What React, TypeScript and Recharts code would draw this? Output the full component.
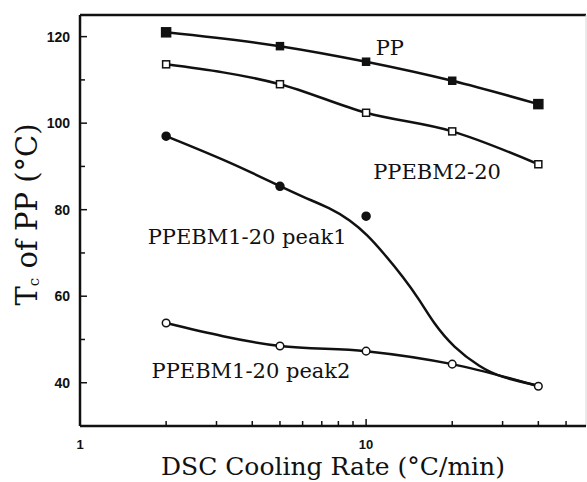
import React from 'react';
import { ComposedChart, Line, XAxis, YAxis, ReferenceLine, ReferenceDot } from 'recharts';

// ---- data ----
const coolingRates = [2, 5, 10, 20, 40];
const ppTc = [121, 117.8, 114.2, 109.8, 104.4];
const ppebm2Tc = [113.6, 109, 102.4, 98.1, 90.5];
const peak1Rates = [2, 5, 10];
const peak1Tc = [97, 85.4, 78.5];
const peak1FitRates = [2, 3.4, 5, 6.03, 7.48, 8.79, 10.1, 11.5, 13.5, 15.4, 17.2, 20.2, 25, 29.4, 40];
const peak1FitTc = [97, 90.8, 85.4, 82.9, 80.4, 77.6, 74.2, 70.0, 64.4, 59.1, 53.8, 48.2, 43.6, 41.3, 39.3];
const peak2Tc = [53.8, 48.5, 47.3, 44.3, 39.2];

const xTicks = [1, 2, 3, 4, 5, 6, 7, 8, 9, 10, 20, 30, 40, 50];
const xTickLabels = ['1', '10'];
const yTicks = [40, 50, 60, 70, 80, 90, 100, 110, 120];
const yTickLabels = ['40', '60', '80', '100', '120'];

const seriesNames = ['PP', 'PPEBM2-20', 'PPEBM1-20 peak1', 'PPEBM1-20 peak2'];

const toPoints = (rates: number[], values: number[]) =>
  rates.map((r, i) => ({ rate: r, tc: values[i] }));

const ppData = toPoints(coolingRates, ppTc);
const ppebm2Data = toPoints(coolingRates, ppebm2Tc);
const peak1Data = toPoints(peak1Rates, peak1Tc);
const peak1FitData = toPoints(peak1FitRates, peak1FitTc);
const peak2Data = toPoints(coolingRates, peak2Tc);

const INK = '#111';
const SERIF = '"DejaVu Serif", serif';
const SANS = '"Liberation Sans", Arial, sans-serif';

const XTick = (props: any) => {
  const { x, y, payload } = props;
  const label = xTickLabels.find((l) => Number(l) === payload.value);
  return (
    <g>
      <line x1={x} x2={x} y1={y} y2={y - (label ? 7 : 5)} stroke={INK} strokeWidth={1.5} />
      {label && (
        <text x={x} y={y + 23} textAnchor="middle" fontFamily={SANS} fontWeight="bold" fontSize={13} fill={INK}>
          {label}
        </text>
      )}
    </g>
  );
};

const YTick = (props: any) => {
  const { x, y, payload } = props;
  const label = yTickLabels.find((l) => Number(l) === payload.value);
  return (
    <g>
      <line x1={x} x2={x + (label ? 7 : 5)} y1={y} y2={y} stroke={INK} strokeWidth={1.5} />
      {label && (
        <text x={x - 10} y={y + 5} textAnchor="end" fontFamily={SANS} fontWeight="bold" fontSize={14} fill={INK}>
          {label}
        </text>
      )}
    </g>
  );
};

const YTitle = (props: any) => {
  const vb = props.viewBox || { x: 0, y: 15, width: 80, height: 411 };
  const cx = vb.x + 27;
  const cy = vb.y + vb.height / 2 - 6;
  return (
    <text transform={`translate(${cx},${cy}) rotate(-90)`} y={10} textAnchor="middle" fontFamily={SERIF} fontSize={29} fill={INK}>
      <tspan>T</tspan>
      <tspan dy={2} fontSize={15}>c</tspan>
      <tspan dy={-2}> of PP (°C)</tspan>
    </text>
  );
};

const XTitle = (props: any) => {
  const vb = props.viewBox || { x: 80, y: 426, width: 506, height: 56 };
  return (
    <text x={vb.x + vb.width / 2} y={vb.y + 49} textAnchor="middle" fontFamily={SERIF} fontSize={25} fill={INK}>
      DSC Cooling Rate (°C/min)
    </text>
  );
};

const squareDot = (filled: boolean, last: number) => (props: any) => {
  const { cx, cy, index } = props;
  if (cx == null || cy == null) return <g key={`e-${index}`} />;
  const s = filled ? (index === 0 || index === last ? 9 : 7) : 7;
  return (
    <rect key={`sq-${filled}-${index}`} x={cx - s / 2} y={cy - s / 2} width={s} height={s}
      fill={filled ? INK : '#fff'} stroke={INK} strokeWidth={1.5} />
  );
};

const circleDot = (filled: boolean) => (props: any) => {
  const { cx, cy, index } = props;
  if (cx == null || cy == null) return <g key={`e-${index}`} />;
  return (
    <circle key={`c-${filled}-${index}`} cx={cx} cy={cy} r={filled ? 4 : 3.8}
      fill={filled ? INK : '#fff'} stroke={INK} strokeWidth={1.5} />
  );
};

const annotStyle = { fontFamily: SERIF, fontSize: 21, fill: INK };

export default function App() {
  return (
    <div style={{ position: 'absolute', left: 0, top: 0, width: 587, height: 482, background: '#fff' }}>
      <ComposedChart width={587} height={482} margin={{ top: 15, right: 1, bottom: 0, left: 0 }}>
        <XAxis
          dataKey="rate"
          type="number"
          scale="log"
          domain={[1, 58.7]}
          allowDataOverflow
          ticks={xTicks}
          interval={0}
          height={56}
          tickSize={0}
          tickMargin={0}
          tickLine={false}
          axisLine={{ stroke: INK, strokeWidth: 2.5 }}
          tick={<XTick />}
          label={<XTitle />}
        />
        <YAxis
          type="number"
          domain={[30, 125]}
          allowDataOverflow
          ticks={yTicks}
          interval={0}
          width={80}
          tickSize={0}
          tickMargin={0}
          tickLine={false}
          axisLine={{ stroke: INK, strokeWidth: 2.5 }}
          tick={<YTick />}
          label={<YTitle />}
        />
        <ReferenceLine y={125} stroke={INK} strokeWidth={2.5} />
        <ReferenceLine x={58.7} stroke="#d6d6d6" strokeWidth={1} />

        <Line data={ppData} dataKey="tc" name={seriesNames[0]} type="monotone" stroke={INK} strokeWidth={2.5}
          dot={squareDot(true, ppData.length - 1)} isAnimationActive={false} />
        <Line data={ppebm2Data} dataKey="tc" name={seriesNames[1]} type="monotone" stroke={INK} strokeWidth={2.5}
          dot={squareDot(false, ppebm2Data.length - 1)} isAnimationActive={false} />
        <Line data={peak1FitData} dataKey="tc" name={seriesNames[2] + ' fit'} type="basis" stroke={INK} strokeWidth={2.5}
          dot={false} isAnimationActive={false} />
        <Line data={peak1Data} dataKey="tc" name={seriesNames[2]} stroke="none"
          dot={circleDot(true)} isAnimationActive={false} />
        <Line data={peak2Data} dataKey="tc" name={seriesNames[3]} type="monotone" stroke={INK} strokeWidth={2.5}
          dot={circleDot(false)} isAnimationActive={false} />

        <ReferenceDot x={12.1} y={117.4} r={1} fill="none" stroke="none"
          label={{ value: seriesNames[0], position: 'center', ...annotStyle }} />
        <ReferenceDot x={17.7} y={88.9} r={1} fill="none" stroke="none"
          label={{ value: seriesNames[1], position: 'center', ...annotStyle }} />
        <ReferenceDot x={3.84} y={73.7} r={1} fill="none" stroke="none"
          label={{ value: seriesNames[2], position: 'center', ...annotStyle }} />
        <ReferenceDot x={3.96} y={42.9} r={1} fill="none" stroke="none"
          label={{ value: seriesNames[3], position: 'center', ...annotStyle }} />
      </ComposedChart>
    </div>
  );
}
